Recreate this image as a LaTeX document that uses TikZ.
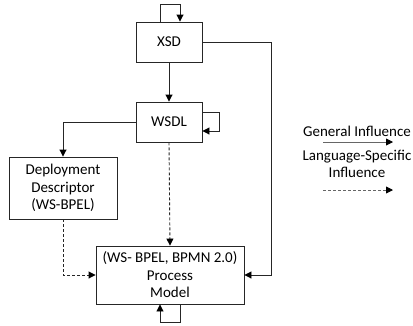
\documentclass[tikz,border=0pt]{standalone}
\usepackage{fontspec}
\setmainfont{Carlito}
\usetikzlibrary{arrows.meta,calc}
\begin{document}
\begin{tikzpicture}[x=1pt,y=-1pt,
  box/.style={draw=black!85,line width=0.9pt,fill=white,align=center,inner sep=0pt,
    font=\fontsize{15}{17.5}\selectfont},
  lbl/.style={align=center,inner sep=0pt,font=\fontsize{15}{17.5}\selectfont},
  gen/.style={draw=black!85,line width=0.9pt,-{Triangle[length=7pt,width=7pt,color=black]}},
  spec/.style={gen,dash pattern=on 3pt off 2pt}]
\useasboundingbox (0,0) rectangle (413,325);

% components
\node[box,minimum width=66pt,minimum height=40pt] (xsd) at (169,42) {XSD};
\node[box,minimum width=66pt,minimum height=40pt] (wsdl) at (169,122) {WSDL};
\node[box,minimum width=108pt,minimum height=62pt] (dd) at (63,188)
  {Deployment\\Descriptor\\(WS-BPEL)};
\node[box,minimum width=148pt,minimum height=58pt] (pm) at (170,275)
  {(WS- BPEL, BPMN 2.0)\\Process\\Model};

% XSD: self influence, to WSDL, to process model
\coordinate (xa) at ($(xsd.north)+(-9,0)$);
\coordinate (xb) at ($(xsd.north)+(11,0)$);
\draw[gen] (xa) -- ++(0,-17) -| (xb);
\draw[gen] (xsd) -- (wsdl);
\draw[gen] (xsd.east) -| (271,275) -- (pm.east);

% WSDL: self influence, to deployment descriptor, to process model
\coordinate (wa) at ($(wsdl.east)+(0,-10)$);
\coordinate (wb) at ($(wsdl.east)+(0,9)$);
\draw[gen] (wa) -- ++(17,0) |- (wb);
\draw[gen] (wsdl.west) -| (dd.north);
\draw[spec] (wsdl.south) -- (pm.north);

% deployment descriptor to process model
\draw[spec] (dd.south) |- (pm.west);

% process model self influence
\coordinate (pa) at ($(pm.south)+(10,0)$);
\coordinate (pb) at ($(pm.south)+(-10,0)$);
\draw[gen] (pa) -- ++(0,18) -| (pb);

% legend
\node[lbl] (lg) at (357,131) {General Influence};
\coordinate (lg1) at (323,142);
\coordinate (lg2) at (393,142);
\draw[gen,draw=black!60] (lg1) -- (lg2);
\node[lbl] (ls) at (357,164) {Language-Specific\\Influence};
\coordinate (ls1) at (323,190);
\coordinate (ls2) at (393,190);
\draw[spec,draw=black!60] (ls1) -- (ls2);
\end{tikzpicture}
\end{document}
